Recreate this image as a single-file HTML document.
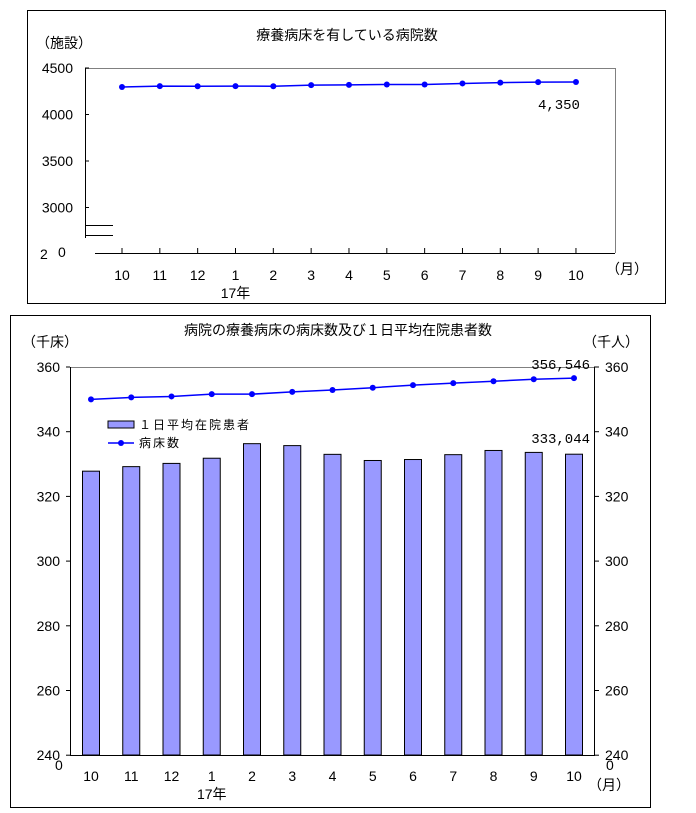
<!DOCTYPE html>
<html><head><meta charset="utf-8">
<style>
body{margin:0;background:#fff;}
svg{display:block;font-family:"Liberation Sans","Noto Sans CJK JP",sans-serif;}
</style></head>
<body>
<svg id="c" width="696" height="813" xmlns="http://www.w3.org/2000/svg">
<rect x="27.5" y="10.5" width="638" height="293" fill="#fff" stroke="#000"/>
<rect x="10.5" y="315.5" width="640" height="492" fill="#fff" stroke="#000"/>
<text x="347" y="40" font-size="14" text-anchor="middle">療養病床を有している病院数</text>
<text x="36" y="48" font-size="14">（施設）</text>
<text x="606" y="274" font-size="14">（月）</text>
<text x="338" y="335" font-size="14" text-anchor="middle">病院の療養病床の病床数及び１日平均在院患者数</text>
<text x="22" y="347" font-size="14">（千床）</text>
<text x="583" y="347" font-size="14">（千人）</text>
<text x="588" y="790" font-size="14">（月）</text>
<g id="top"></g><g id="bot"></g>
</svg>
<script>
const months=["10","11","12","1","2","3","4","5","6","7","8","9","10"];
const hospitals=[4296,4305,4304,4305,4304,4316,4318,4323,4323,4334,4343,4348,4350];
const topTicks=[3000,3500,4000,4500];
const beds=[350.0,350.6,350.9,351.6,351.6,352.3,352.9,353.6,354.4,355.0,355.6,356.2,356.546];
const patients=[327.8,329.2,330.2,331.8,336.3,335.7,333.0,331.1,331.4,332.9,334.2,333.6,333.044];
const botTicks=[240,260,280,300,320,340,360];
const NS="http://www.w3.org/2000/svg";
function mk(p,t,a,txt){const e=document.createElementNS(NS,t);for(const k in a)e.setAttribute(k,a[k]);if(txt!==undefined)e.textContent=txt;p.appendChild(e);return e;}
// top chart
const T=document.getElementById('top');
const tx=i=>122+i*37.83, ty=v=>68+(4500-v)/500*46.5;
mk(T,'path',{d:'M85.5 68.5H615.5V253',fill:'none',stroke:'#808080'});
mk(T,'line',{x1:85.5,y1:68,x2:85.5,y2:238,stroke:'#000'});
mk(T,'line',{x1:95,y1:253.5,x2:615,y2:253.5,stroke:'#000'});
mk(T,'line',{x1:85,y1:225.5,x2:113,y2:225.5,stroke:'#000'});
mk(T,'line',{x1:85,y1:235.5,x2:113,y2:235.5,stroke:'#000'});
topTicks.forEach(v=>{const l=mk(T,'line',{x1:85,y1:ty(v),x2:89,y2:ty(v),stroke:'#000'});

const t=mk(T,'text',{x:73,y:ty(v)+5,'font-size':14,'text-anchor':'end'},String(v));
});
mk(T,'text',{x:40,y:259,'font-size':14},'2');mk(T,'rect',{x:48,y:248,width:3,height:12,fill:'#fff'});
mk(T,'text',{x:58,y:257,'font-size':14},'0');
months.forEach((m,i)=>{mk(T,'line',{x1:tx(i),y1:248,x2:tx(i),y2:253,stroke:'#000'});
const t=mk(T,'text',{x:tx(i),y:280,'font-size':14,'text-anchor':'middle'},m);
});
mk(T,'text',{x:tx(3),y:298,'font-size':14,'text-anchor':'middle'},'17年');
const tl=mk(T,'polyline',{points:hospitals.map((v,i)=>tx(i)+','+ty(v)).join(' '),fill:'none',stroke:'#0000ff','stroke-width':1.5});

hospitals.forEach((v,i)=>{const c=mk(T,'circle',{cx:tx(i),cy:ty(v),r:3,fill:'#0000ff'});
});
mk(T,'text',{x:tx(12)+4,y:ty(hospitals[12])+27,'font-size':14,'text-anchor':'end','font-family':'Liberation Mono'},hospitals[12].toLocaleString('en-US'));
// bottom chart
const B=document.getElementById('bot');
const bx=i=>91+i*40.25, by=v=>367+(360-v)/20*64.7;
mk(B,'path',{d:'M70.5 367.5H594.5',fill:'none',stroke:'#808080'});
mk(B,'line',{x1:70.5,y1:367,x2:70.5,y2:755,stroke:'#000'});
mk(B,'line',{x1:594.5,y1:367,x2:594.5,y2:755,stroke:'#000'});
mk(B,'line',{x1:70,y1:755.5,x2:595,y2:755.5,stroke:'#000'});
botTicks.forEach(v=>{mk(B,'line',{x1:66,y1:by(v),x2:70,y2:by(v),stroke:'#000'});mk(B,'line',{x1:594,y1:by(v),x2:599,y2:by(v),stroke:'#000'});
const t=mk(B,'text',{x:60,y:by(v)+5,'font-size':14,'text-anchor':'end'},String(v));

const r=mk(B,'text',{x:605,y:by(v)+5,'font-size':14},String(v));
});
mk(B,'text',{x:55,y:770,'font-size':14},'0');mk(B,'text',{x:606,y:770,'font-size':14},'0');
months.forEach((m,i)=>{const t=mk(B,'text',{x:bx(i),y:781,'font-size':14,'text-anchor':'middle'},m);
});
mk(B,'text',{x:bx(3),y:799,'font-size':14,'text-anchor':'middle'},'17年');
patients.forEach((v,i)=>{const r=mk(B,'rect',{x:bx(i)-8.5,y:by(v),width:17,height:755-by(v),fill:'#9999ff',stroke:'#000','stroke-width':1});
});
const bl=mk(B,'polyline',{points:beds.map((v,i)=>bx(i)+','+by(v)).join(' '),fill:'none',stroke:'#0000ff','stroke-width':1.5});

beds.forEach((v,i)=>{const c=mk(B,'circle',{cx:bx(i),cy:by(v),r:3,fill:'#0000ff'});
});
mk(B,'text',{x:bx(12)+16,y:by(beds[12])-9,'font-size':14,'text-anchor':'end','font-family':'Liberation Mono'},Math.round(beds[12]*1000).toLocaleString('en-US'));
mk(B,'text',{x:bx(12)+16,y:by(patients[12])-11,'font-size':14,'text-anchor':'end','font-family':'Liberation Mono'},Math.round(patients[12]*1000).toLocaleString('en-US'));
// legend
const L=mk(B,'g',{});

mk(L,'rect',{x:108,y:421,width:26,height:7,fill:'#9999ff',stroke:'#000'});
mk(L,'text',{x:139,y:429,'font-size':12,'letter-spacing':'2'},'１日平均在院患者');
mk(L,'line',{x1:108,y1:443,x2:134,y2:443,stroke:'#0000ff','stroke-width':1.5});
mk(L,'circle',{cx:121,cy:443,r:3,fill:'#0000ff'});
mk(L,'text',{x:139,y:447,'font-size':12,'letter-spacing':'2'},'病床数');
</script>
</body></html>
